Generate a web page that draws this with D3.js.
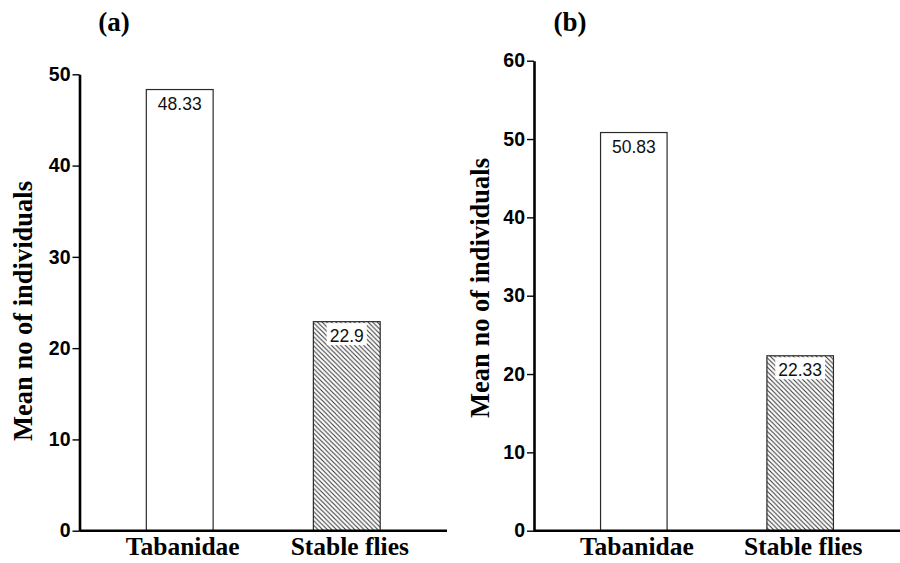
<!DOCTYPE html>
<html>
<head>
<meta charset="utf-8">
<script src="https://cdn.jsdelivr.net/npm/d3@7"></script>
<style>
  body { margin: 0; background: #fff; }
  svg { display: block; }
  .serif { font-family: "Liberation Serif", "Times New Roman", serif; font-weight: bold; }
  .sans { font-family: "Liberation Sans", Arial, sans-serif; }
</style>
</head>
<body>
<div id="chart"></div>
<script>
// Data
var categories = ['Tabanidae', 'Stable flies'];
var valuesA = [48.33, 22.9];
var valuesB = [50.83, 22.33];
var labelsA = ['48.33', '22.9'];
var labelsB = ['50.83', '22.33'];
var ticksA = [0, 10, 20, 30, 40, 50];
var ticksB = [0, 10, 20, 30, 40, 50, 60];
var fills = ['white', 'url(#hatch)'];

var width = 900, height = 563;

var svg = d3.select('#chart')
  .append('svg')
    .attr('width', width)
    .attr('height', height);

// diagonal hatching for the second bar
var defs = svg.append('defs');
defs.append('pattern')
    .attr('id', 'hatch')
    .attr('patternUnits', 'userSpaceOnUse')
    .attr('width', 4.6)
    .attr('height', 4.6)
  .call(function(p) {
    p.append('rect').attr('width', 4.6).attr('height', 4.6).attr('fill', '#fff');
    p.append('path')
      .attr('d', 'M-1,-1 L5.6,5.6 M-1,3.6 L1,5.6 M3.6,-1 L5.6,1')
      .attr('stroke', '#333')
      .attr('stroke-width', 1);
  });

// one panel = one small bar chart
function drawPanel(opts) {
  var g = svg.append('g');

  var x = d3.scaleBand()
    .domain(categories)
    .range([opts.left, opts.right])
    .paddingInner(0.6)
    .paddingOuter(0.4);

  var y = d3.scaleLinear()
    .domain([0, opts.max])
    .range([opts.bottom, opts.top]);

  // bars
  g.selectAll('rect.bar')
    .data(opts.values)
    .enter().append('rect')
      .attr('class', 'bar')
      .attr('x', function(d, i) { return x(categories[i]); })
      .attr('width', x.bandwidth())
      .attr('y', function(d) { return y(d); })
      .attr('height', function(d) { return y(0) - y(d); })
      .attr('fill', function(d, i) { return fills[i]; })
      .attr('stroke', '#2a2a2a')
      .attr('stroke-width', 1.2);

  // value labels with a white box behind them
  var lab = g.selectAll('g.val')
    .data(opts.values)
    .enter().append('g')
      .attr('class', 'val')
      .attr('transform', function(d, i) {
        return 'translate(' + (x(categories[i]) + x.bandwidth() / 2) + ',' + y(d) + ')';
      });
  lab.append('text')
    .attr('class', 'sans')
    .attr('text-anchor', 'middle')
    .attr('y', 20)
    .style('font-size', '17.5px')
    .attr('fill', '#111')
    .text(function(d, i) { return opts.labels[i]; });
  lab.each(function() {
    var t = d3.select(this).select('text');
    var bb = t.node().getBBox();
    d3.select(this).insert('rect', 'text')
      .attr('x', bb.x - 3)
      .attr('y', 1.5)
      .attr('width', bb.width + 6)
      .attr('height', 22)
      .attr('fill', '#fff');
  });

  // y axis
  var yAxis = g.append('g')
    .attr('transform', 'translate(' + opts.left + ',0)')
    .call(d3.axisLeft(y).tickValues(opts.ticks).tickSize(7).tickSizeOuter(0).tickPadding(2));
  yAxis.attr('font-family', null).attr('font-size', null);
  yAxis.select('.domain').attr('stroke', '#000').attr('stroke-width', 2.6);
  yAxis.selectAll('.tick line').attr('stroke', '#000').attr('stroke-width', 1.4);
  yAxis.selectAll('.tick text')
    .attr('class', 'sans')
    .style('font-weight', 'bold')
    .style('font-size', '19.5px')
    .attr('fill', '#000');

  // x axis
  var xAxis = g.append('g')
    .attr('transform', 'translate(0,' + opts.bottom + ')')
    .call(d3.axisBottom(x).tickSize(0).tickSizeOuter(0));
  xAxis.attr('font-family', null).attr('font-size', null);
  xAxis.select('.domain')
    .attr('d', 'M' + opts.left + ',0H' + opts.right)
    .attr('stroke', '#000').attr('stroke-width', 2.6);
  xAxis.selectAll('.tick text')
    .attr('class', 'serif')
    .attr('y', 24.5)
    .attr('dy', null)
    .attr('dx', 3)
    .style('font-size', '25.5px')
    .attr('fill', '#000');

  // axis title
  g.append('text')
    .attr('class', 'serif')
    .attr('transform', 'translate(' + opts.titleX + ',' + opts.titleY + ') rotate(-90)')
    .attr('text-anchor', 'middle')
    .style('font-size', '26.5px')
    .attr('fill', '#000')
    .text('Mean no of individuals');

  // panel letter
  g.append('text')
    .attr('class', 'serif')
    .attr('x', opts.letterX)
    .attr('y', 31)
    .attr('text-anchor', 'middle')
    .style('font-size', '27px')
    .attr('fill', '#000')
    .text(opts.letter);
}

drawPanel({
  values: valuesA, labels: labelsA, ticks: ticksA, max: 50,
  left: 79.5, right: 447, top: 74.3, bottom: 530.7,
  titleX: 32, titleY: 311, letter: '(a)', letterX: 114
});

drawPanel({
  values: valuesB, labels: labelsB, ticks: ticksB, max: 60,
  left: 534, right: 900, top: 60.7, bottom: 530.7,
  titleX: 489, titleY: 288, letter: '(b)', letterX: 570
});
</script>
</body>
</html>
